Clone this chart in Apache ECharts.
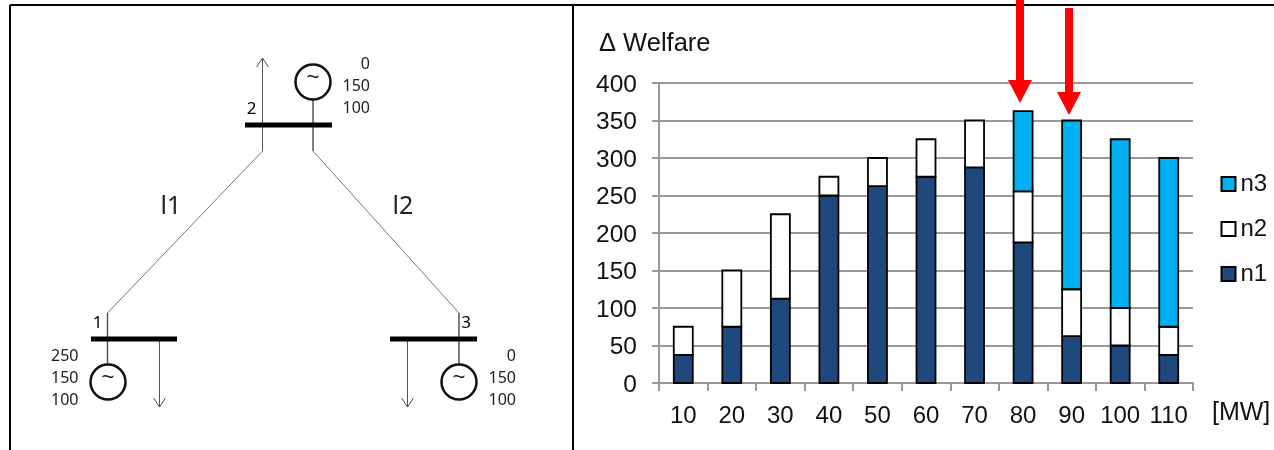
<!DOCTYPE html>
<html>
<head>
<meta charset="utf-8">
<title>Welfare</title>
<script src="https://cdn.jsdelivr.net/npm/echarts@6/dist/echarts.min.js"></script>
<style>
html, body { margin: 0; padding: 0; background: #fff; }
#main { width: 1274px; height: 450px; }
</style>
</head>
<body>
<div id="main"></div>
<script>
var categories = ['10', '20', '30', '40', '50', '60', '70', '80', '90', '100', '110'];
var n1 = [37.5, 75, 112.5, 250, 262.5, 275, 287.5, 187.5, 62.5, 50, 37.5];
var n2 = [37.5, 75, 112.5, 25, 37.5, 50, 62.5, 68, 62.5, 50, 37.5];
var n3 = [null, null, null, null, null, null, null, 107, 225, 225, 225];
var yTicks = [0, 50, 100, 150, 200, 250, 300, 350, 400];

var DIAGRAM_FONT = '"Noto Sans", sans-serif';
var CHART_FONT = '"Liberation Sans", Arial, sans-serif';

function line(x1, y1, x2, y2, width, color) {
	return {
		type: 'line',
		shape: { x1: x1, y1: y1, x2: x2, y2: y2 },
		style: { stroke: color || '#555', lineWidth: width || 1 }
	};
}
function text(x, y, str, size, align, font, color) {
	return {
		type: 'text',
		x: x,
		y: y,
		style: {
			text: str,
			fontSize: size,
			fontFamily: font || DIAGRAM_FONT,
			fill: color || '#222',
			align: align || 'center',
			verticalAlign: 'middle'
		}
	};
}
// generator symbol
function generator(cx, cy) {
	return [{
		type: 'circle',
		shape: { cx: cx, cy: cy, r: 17.5 },
		style: { fill: '#fff', stroke: '#111', lineWidth: 2.5 }
	}, text(cx, cy - 4, '~', 22, 'center', CHART_FONT, '#111')];
}
function arrowHead(x, y, dir) {
	return [line(x, y, x - 6, y - dir * 9), line(x, y, x + 6, y - dir * 9)];
}
function redArrow(x, y1, y2) {
	return [{
		type: 'rect',
		shape: { x: x - 4, y: y1, width: 8, height: y2 - y1 },
		style: { fill: '#FF0000' }
	}, {
		type: 'polygon',
		shape: { points: [[x - 12, y2], [x + 12, y2], [x, y2 + 23]] },
		style: { fill: '#FF0000' }
	}];
}
function numbers(right, y, list) {
	return list.map(function(v, i) {
		return text(right, y + i * 22, v, 16, 'right');
	});
}

var elements = [];
// outer frame
elements.push(line(10, 5, 1274, 5, 2, '#000'));
elements.push(line(10, 5, 10, 450, 2, '#000'));
elements.push(line(573, 5, 573, 450, 2, '#000'));
// network
elements.push(line(262.5, 151, 107.5, 313, 1, '#777'));
elements.push(line(313, 151, 459, 313, 1, '#777'));
elements.push(line(262.5, 58, 262.5, 151));
elements.push(line(313, 100, 313, 151, 1.5));
elements.push(line(107.5, 313, 107.5, 365, 1.5));
elements.push(line(459, 313, 459, 365, 1.5));
elements.push(line(159.5, 339, 159.5, 407));
elements.push(line(407.5, 339, 407.5, 407));
elements = elements.concat(arrowHead(262.5, 58, -1), arrowHead(159.5, 407, 1), arrowHead(407.5, 407, 1));
elements.push(line(245, 125, 332, 125, 5, '#000'));
elements.push(line(91, 339, 177, 339, 5, '#000'));
elements.push(line(390, 339, 477, 339, 5, '#000'));
elements = elements.concat(generator(313, 82), generator(108, 382), generator(459, 382));
elements = elements.concat(numbers(370, 64, ['0', '150', '100']));
elements = elements.concat(numbers(78.5, 356, ['250', '150', '100']));
elements = elements.concat(numbers(516, 356, ['0', '150', '100']));
elements.push(text(251.5, 109, '2', 17, 'center', null, '#000'), text(97.5, 323, '1', 17, 'center', null, '#000'), text(466, 323, '3', 17, 'center', null, '#000'));
elements.push(text(171, 207, 'l1', 25), text(403, 207, 'l2', 25));
// chart annotations
elements.push(text(599, 44, 'Δ Welfare', 25.5, 'left', CHART_FONT, '#111'));
elements.push(text(1212, 413, '[MW]', 25, 'left', CHART_FONT, '#111'));
elements = elements.concat(redArrow(1020, 0, 80), redArrow(1069, 8, 92));
elements.forEach(function(el) {
	el.z = 100;
});

// stacked rows: [category index, bottom, top]
function stackRows(values, below) {
	var rows = [];
	values.forEach(function(v, i) {
		if (v === null) {
			return;
		}
		var base = 0;
		below.forEach(function(arr) {
			base += arr[i] || 0;
		});
		rows.push([i, base, base + v]);
	});
	return rows;
}
// a plain bar insets its border, which doubles the line where two stacked parts meet
function renderStackedBar(params, api) {
	var top = api.coord([api.value(0), api.value(2)]);
	var bottom = api.coord([api.value(0), api.value(1)]);
	return {
		type: 'rect',
		shape: { x: top[0] - 9.5, y: top[1], width: 19, height: bottom[1] - top[1] },
		style: { fill: api.visual('color'), stroke: '#000', lineWidth: 1.8 }
	};
}
function barSeries(name, rows, color) {
	return {
		name: name,
		type: 'custom',
		renderItem: renderStackedBar,
		encode: { x: 0, y: [1, 2] },
		data: rows,
		itemStyle: { color: color, borderColor: '#000', borderWidth: 2 }
	};
}

var myChart = echarts.init(document.getElementById('main'));
var option = {
	animation: false,
	backgroundColor: '#fff',
	textStyle: { fontFamily: CHART_FONT },
	grid: { left: 659, width: 534, top: 83, height: 300 },
	legend: {
		orient: 'vertical',
		left: 1215.5,
		top: 167,
		icon: 'rect',
		itemWidth: 14,
		itemHeight: 14,
		itemGap: 21,
		itemStyle: { borderColor: '#000', borderWidth: 2 },
		data: ['n3', 'n2', 'n1'],
		textStyle: { fontSize: 24, color: '#111' }
	},
	xAxis: {
		type: 'category',
		data: categories,
		axisLine: { lineStyle: { color: '#999', width: 2 } },
		axisTick: { show: true, length: 8, lineStyle: { color: '#999', width: 2 } },
		axisLabel: { fontSize: 24, color: '#111', margin: 21, interval: 0 },
		splitLine: { show: false }
	},
	yAxis: {
		type: 'value',
		min: yTicks[0],
		max: yTicks[yTicks.length - 1],
		interval: yTicks[1] - yTicks[0],
		axisLine: { show: true, lineStyle: { color: '#999', width: 2 } },
		axisTick: { show: true, length: 7, lineStyle: { color: '#999', width: 2 } },
		axisLabel: { fontSize: 24.5, color: '#111', margin: 22, verticalAlign: 'top', lineHeight: 4 },
		splitLine: { show: true, lineStyle: { color: '#999', width: 2 } }
	},
	series: [
		barSeries('n1', stackRows(n1, []), '#1F497D'),
		barSeries('n2', stackRows(n2, [n1]), '#FFFFFF'),
		barSeries('n3', stackRows(n3, [n1, n2]), '#00B0F0')
	],
	graphic: { elements: elements }
};
myChart.setOption(option);
</script>
</body>
</html>
